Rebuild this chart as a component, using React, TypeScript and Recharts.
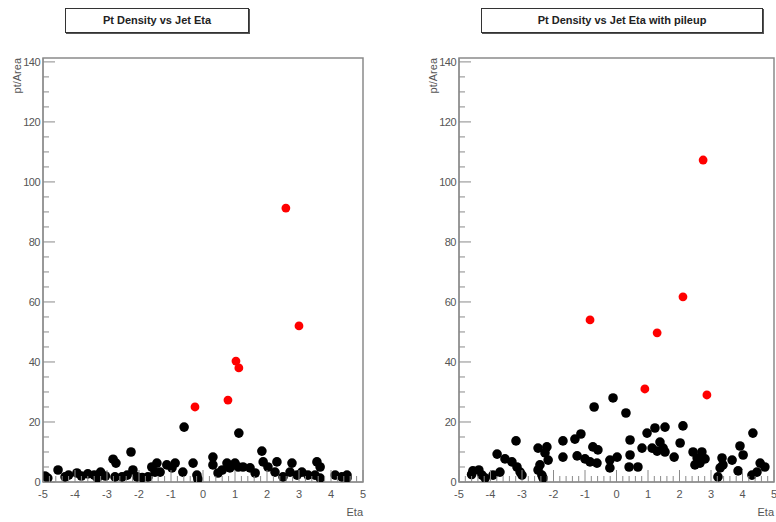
import React from "react";
import { ScatterChart, Scatter, XAxis, YAxis, ReferenceArea } from "recharts";

// eta, pt/area
const jetEtaBlack = [
  [-4.94, 2.0], [-4.85, 1.3], [-4.53, 4.0], [-4.31, 1.7], [-4.2, 2.3], [-3.94, 3.0], [-3.8, 2.0],
  [-3.6, 2.7], [-3.4, 2.3], [-3.3, 1.3], [-3.2, 3.3], [-3.05, 2.0], [-2.81, 7.6], [-2.72, 6.3],
  [-2.75, 1.7], [-2.53, 1.7], [-2.37, 2.3], [-2.25, 10.0], [-2.19, 4.0], [-2.06, 1.7], [-1.9, 1.5],
  [-1.72, 1.7], [-1.6, 5.0], [-1.5, 3.3], [-1.44, 6.3], [-1.34, 3.3], [-1.13, 5.7], [-0.97, 4.7],
  [-0.87, 6.3], [-0.63, 3.3], [-0.59, 18.3], [-0.31, 6.3], [-0.19, 2.3], [-0.16, 1.0],
  [0.31, 8.3], [0.31, 5.7], [0.47, 3.0], [0.6, 4.0], [0.75, 6.3], [0.84, 4.7], [1.0, 6.3],
  [1.1, 5.0], [1.12, 16.3], [1.25, 5.0], [1.47, 4.7], [1.63, 3.0], [1.84, 10.3], [1.88, 6.7],
  [2.03, 5.0], [2.25, 3.3], [2.31, 6.7], [2.5, 1.7], [2.72, 3.3], [2.78, 6.3], [2.94, 2.3],
  [3.09, 3.3], [3.28, 2.3], [3.5, 2.3], [3.56, 6.7], [3.66, 5.0], [3.66, 1.3], [4.13, 2.3],
  [4.34, 1.7], [4.5, 1.3], [4.5, 2.3],
];
const jetEtaRed = [[2.59, 91.3], [3.0, 52.0], [1.03, 40.3], [1.12, 38.0], [0.78, 27.3], [-0.25, 25.0]];

const pileupBlack = [
  [-4.6, 2.5], [-4.56, 3.7], [-4.37, 4.0], [-4.27, 2.3], [-4.17, 1.3], [-3.92, 2.3], [-3.79, 9.3],
  [-3.7, 3.3], [-3.54, 7.7], [-3.32, 6.7], [-3.19, 13.7], [-3.16, 5.0], [-3.06, 3.3], [-3.0, 2.3],
  [-2.49, 11.3], [-2.21, 11.7], [-2.27, 9.7], [-2.17, 7.3], [-2.43, 5.7], [-2.49, 4.0], [-2.37, 2.3],
  [-2.33, 1.3], [-1.7, 13.7], [-1.7, 8.3], [-1.32, 14.3], [-1.13, 16.0], [-1.25, 8.7], [-1.0, 7.7],
  [-0.84, 6.7], [-0.75, 11.7], [-0.71, 25.0], [-0.59, 10.7], [-0.62, 6.3], [-0.21, 7.3], [-0.21, 4.7],
  [-0.11, 28.0], [0.02, 8.3], [0.3, 23.0], [0.43, 14.0], [0.43, 9.0], [0.4, 5.0], [0.68, 5.0],
  [0.81, 11.3], [0.97, 16.3], [1.13, 11.3], [1.22, 18.0], [1.29, 10.3], [1.38, 13.3], [1.48, 11.3],
  [1.54, 10.0], [1.54, 18.3], [1.83, 8.3], [2.02, 13.0], [2.11, 18.7], [2.43, 10.0], [2.49, 5.7],
  [2.56, 8.0], [2.65, 6.3], [2.71, 10.0], [2.81, 7.7], [3.22, 1.7], [3.29, 4.7], [3.35, 8.0],
  [3.38, 5.7], [3.67, 7.3], [3.86, 3.7], [3.92, 12.0], [4.02, 9.0], [4.3, 2.3], [4.33, 16.3],
  [4.46, 3.3], [4.56, 6.3], [4.71, 5.0],
];
const pileupRed = [[2.75, 107.3], [2.11, 61.7], [1.29, 49.7], [-0.84, 54.0], [0.9, 31.0], [2.87, 29.0]];

const xMajor = [-5, -4, -3, -2, -1, 0, 1, 2, 3, 4, 5];
const yMajor = [0, 20, 40, 60, 80, 100, 120, 140];
const Y_MAX = 141.3;

// minor ticks: 5 per eta unit, 4 per 20 in pt/Area
const xTicks: number[] = [];
for (let i = 0; i <= 50; i++) xTicks.push(Math.round((-5 + i * 0.2) * 10) / 10);
const yTicks: number[] = [];
for (let i = 0; i <= 28; i++) yTicks.push(i * 5);

const AXIS = "#8a8a8a";
const LABEL = "#555";
const FONT = "'Liberation Sans', Arial, sans-serif";

const toPts = (arr: number[][]) => arr.map(([eta, pt]) => ({ eta, pt }));

function XTick(props: any) {
  const { x, y, payload } = props;
  const v = payload.value;
  const major = xMajor.includes(v);
  return (
    <g>
      <line x1={x} x2={x} y1={y} y2={y - (major ? 12 : 6)} stroke={AXIS} />
      {major && (
        <text x={x} y={y + 16} textAnchor="middle" fontSize={11} fill={LABEL} fontFamily={FONT}>
          {v}
        </text>
      )}
    </g>
  );
}

function YTick(props: any) {
  const { x, y, payload } = props;
  const v = payload.value;
  const major = yMajor.includes(v);
  return (
    <g>
      <line x1={x} x2={x + (major ? 12 : 6)} y1={y} y2={y} stroke={AXIS} />
      {major && (
        <text x={x - 3} y={y + 4} textAnchor="end" fontSize={11} fill={LABEL} fontFamily={FONT} letterSpacing={-0.5}>
          {v}
        </text>
      )}
    </g>
  );
}

const dot = (fill: string, r: number) => (p: any) => <circle cx={p.cx} cy={p.cy} r={r} fill={fill} />;

function Panel({ black, red, left, yAxisW, marginRight, title, titleLeft, titleW, etaShift }: any) {
  const W = 388;
  const H = 522;
  const plotRight = W - marginRight;
  return (
    <div style={{ position: "absolute", left, top: 0, width: W, height: H }}>
      <div
        style={{
          position: "absolute",
          left: titleLeft,
          top: 8,
          width: titleW,
          height: 25,
          border: "1px solid #333",
          boxShadow: "1px 1px 0 #555",
          boxSizing: "border-box",
          fontFamily: FONT,
          fontWeight: "bold",
          fontSize: 11,
          lineHeight: "23px",
          textAlign: "center",
          color: "#222",
          background: "#fff",
        }}
      >
        {title}
      </div>
      <ScatterChart width={W} height={H} margin={{ top: 58, right: marginRight, bottom: 0, left: 0 }}>
        <XAxis
          type="number"
          dataKey="eta"
          domain={[-5, 5]}
          allowDataOverflow
          ticks={xTicks}
          interval={0}
          tickSize={0}
          tickMargin={0}
          height={40}
          tick={XTick}
          axisLine={{ stroke: AXIS }}
        />
        <YAxis
          type="number"
          dataKey="pt"
          domain={[0, Y_MAX]}
          allowDataOverflow
          ticks={yTicks}
          interval={0}
          tickSize={0}
          tickMargin={0}
          width={yAxisW}
          tick={YTick}
          axisLine={{ stroke: AXIS }}
        />
        <ReferenceArea x1={-5} x2={5} y1={0} y2={Y_MAX} fill="none" stroke={AXIS} strokeWidth={1.5} />
        <Scatter data={toPts(black)} isAnimationActive={false} shape={dot("#000", 4.8)} />
        <Scatter data={toPts(red)} isAnimationActive={false} shape={dot("#ff0000", 4.4)} />
        <text
          transform={`translate(${yAxisW - 22}, 58) rotate(-90)`}
          textAnchor="end"
          fontSize={11}
          fill={LABEL}
          fontFamily={FONT}
        >
          pt/Area
        </text>
        <text x={plotRight + etaShift} y={516} textAnchor="end" fontSize={11} fill={LABEL} fontFamily={FONT}>
          Eta
        </text>
      </ScatterChart>
    </div>
  );
}

export default function App() {
  return (
    <div style={{ position: "absolute", left: 0, top: 0, width: 776, height: 522, background: "#fff", overflow: "hidden" }}>
      <Panel
        black={jetEtaBlack}
        red={jetEtaRed}
        left={0}
        yAxisW={43}
        marginRight={25}
        title="Pt Density vs Jet Eta"
        titleLeft={65}
        titleW={184}
        etaShift={0}
      />
      <Panel
        black={pileupBlack}
        red={pileupRed}
        left={388}
        yAxisW={71}
        marginRight={2}
        title="Pt Density vs Jet Eta with pileup"
        titleLeft={93}
        titleW={282}
        etaShift={0}
      />
    </div>
  );
}
